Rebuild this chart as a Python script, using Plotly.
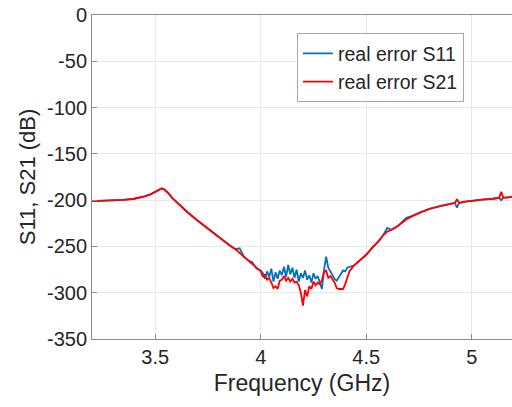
import plotly.graph_objects as go

# Frequency points (GHz)
freq = [3.20, 3.25, 3.30, 3.35, 3.40, 3.45, 3.48, 3.50, 3.52, 3.53, 3.54, 3.56, 3.58, 3.60,
        3.65, 3.70, 3.75, 3.80, 3.85, 3.88, 3.90, 3.92, 3.94, 3.96, 3.98,
        4.00, 4.01, 4.02, 4.03, 4.04, 4.05, 4.06, 4.07, 4.08, 4.09,
        4.10, 4.11, 4.12, 4.13, 4.14, 4.15, 4.16, 4.17, 4.18, 4.19,
        4.20, 4.21, 4.22, 4.23, 4.24, 4.25, 4.26, 4.27, 4.28, 4.29,
        4.30, 4.31, 4.32, 4.33, 4.34, 4.35, 4.36, 4.37, 4.38, 4.39,
        4.40, 4.41, 4.42, 4.44, 4.46, 4.48, 4.50, 4.53, 4.56, 4.58,
        4.60, 4.62, 4.65, 4.69, 4.72, 4.76, 4.80, 4.85, 4.90, 4.92,
        4.93, 4.94, 4.97, 5.00, 5.05, 5.10, 5.13, 5.14, 5.15, 5.19, 5.20]

s11 = [-201, -200.8, -200.3, -199.8, -198.5, -196, -193.5, -191, -188.5, -187.5, -188, -192, -197.5, -202,
       -212.5, -222, -231, -240, -248.5, -253, -252, -261, -265, -267, -274,
       -276, -279, -285, -277, -283, -274, -288, -278, -285, -276,
       -281, -272, -283, -270, -280, -273, -284, -275, -288, -279,
       -284, -276, -286, -281, -289, -279, -285, -282, -289, -296,
       -275, -261, -273, -277, -280, -285, -287, -283, -279, -276,
       -277, -273, -272, -271, -267, -263, -259, -251, -244, -238,
       -230, -232, -228, -219, -217, -213, -209.5, -206.5, -204, -203,
       -208, -203, -201.5, -200.5, -199.5, -198.5, -197.5, -200, -197.5, -196.5, -196.3]

s21 = [-201, -200.8, -200.3, -199.8, -198.5, -196, -193.5, -191, -188.5, -187.5, -188, -192, -197.5, -202,
       -212.5, -222, -231, -240, -248.5, -253, -257, -261, -265, -270, -274,
       -277, -283, -280, -286, -284, -289, -295, -293, -296, -287,
       -286, -282, -287, -284, -288, -285, -289, -288, -292, -300,
       -314, -297, -304, -293, -296, -288, -292, -289, -291, -286,
       -278, -276, -284, -282, -286, -289, -295, -296, -296, -296,
       -291, -283, -277, -271, -267, -263, -259, -251, -244, -238,
       -234, -232, -228, -221, -217, -213, -209.5, -206.5, -204, -203,
       -199, -203, -201.5, -200.5, -199.5, -198.5, -197.5, -191, -197.5, -196.5, -196.3]

x_ticks = [3.5, 4, 4.5, 5]
y_ticks = [0, -50, -100, -150, -200, -250, -300, -350]

FONT = "Liberation Sans, Arial, sans-serif"
TXT = "#262626"

fig = go.Figure()
fig.add_trace(go.Scatter(x=freq, y=s11, mode="lines", name="real error S11",
                         line=dict(color="#0072BD", width=1.8)))
fig.add_trace(go.Scatter(x=freq, y=s21, mode="lines", name="real error S21",
                         line=dict(color="#FF0000", width=1.8)))

fig.update_layout(
    width=512, height=407,
    margin=dict(l=92, r=0, t=15, b=68),
    paper_bgcolor="white", plot_bgcolor="white",
    font=dict(family=FONT, color=TXT, size=20),
    showlegend=True,
    legend=dict(x=0.488, y=0.944, xanchor="left", yanchor="top",
                bgcolor="white", bordercolor="#a8a8a8", borderwidth=1,
                font=dict(size=19.5, color=TXT), tracegroupgap=0),
)
fig.update_xaxes(range=[3.2, 5.191], tickvals=x_ticks, ticktext=[str(v) for v in x_ticks],
                 showgrid=True, gridcolor="#e8e8e8", gridwidth=1,
                 showline=True, linecolor="#8c8c8c", linewidth=1, mirror=True,
                 ticks="inside", ticklen=5, tickcolor="#8c8c8c",
                 zeroline=False,
                 title=dict(text="Frequency (GHz)", font=dict(size=23), standoff=7))
fig.update_yaxes(range=[-350, 0], tickvals=y_ticks, ticktext=[str(v) for v in y_ticks],
                 showgrid=True, gridcolor="#e8e8e8", gridwidth=1,
                 showline=True, linecolor="#8c8c8c", linewidth=1, mirror=True,
                 ticks="inside", ticklen=5, tickcolor="#8c8c8c",
                 zeroline=False,
                 title=dict(text="S11, S21 (dB)", font=dict(size=22), standoff=5))

fig.write_html("out.html")
